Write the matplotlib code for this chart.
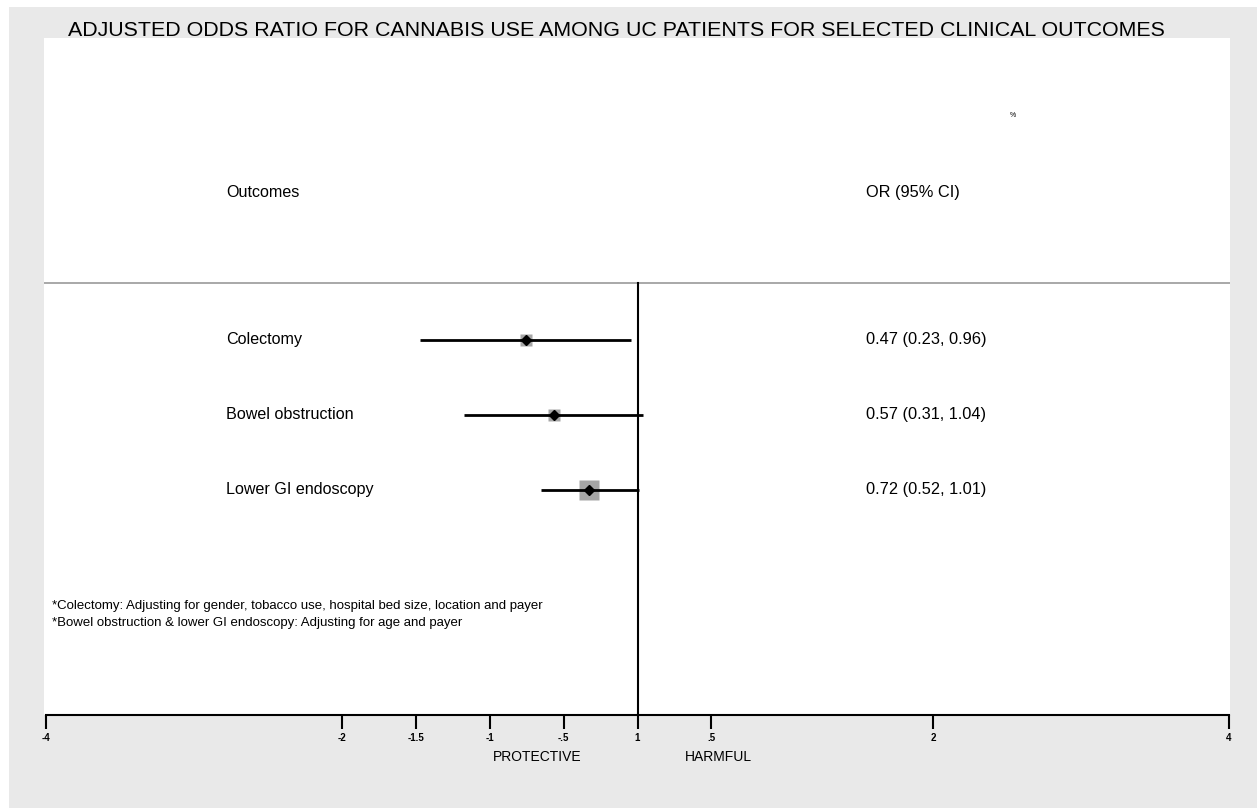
import numpy as np
import matplotlib
matplotlib.use("Agg")
from matplotlib import pyplot as plt
from matplotlib.patches import Rectangle

plt.rcParams['font.family'] = ['Liberation Sans', 'DejaVu Sans']

# data (odds ratios with 95% CI)
outcomes = ["Colectomy", "Bowel obstruction", "Lower GI endoscopy"]
odds_ratio = [0.47, 0.57, 0.72]
ci_low = [0.23, 0.31, 0.52]
ci_high = [0.96, 1.04, 1.01]
weights = [1.0, 1.3, 3.0]   # relative box size

tick_pos = [-4, -2, -1.5, -1, -0.5, 0, 0.5, 2, 4]
tick_labels = ["-4", "-2", "-1.5", "-1", "-.5", "1", ".5", "2", "4"]

title = "ADJUSTED ODDS RATIO FOR CANNABIS USE AMONG UC PATIENTS FOR SELECTED CLINICAL OUTCOMES"
notes = ["*Colectomy: Adjusting for gender, tobacco use, hospital bed size, location and payer",
         "*Bowel obstruction & lower GI endoscopy: Adjusting for age and payer"]

W, H = 1257, 810
fig = plt.figure(figsize=(W / 100, H / 100), dpi=100)
fig.patch.set_facecolor("white")
bg = Rectangle((9 / W, 2 / H), (W - 9) / W, (H - 9) / H,
               transform=fig.transFigure, facecolor="#e9e9e9",
               edgecolor="none", zorder=-10)
fig.patches.append(bg)

ax = fig.add_axes([44 / W, (H - 715) / H, (1230 - 44) / W, (715 - 38) / H])
ax.set_zorder(1)
ax.set_facecolor("white")
ax.set_xlim(-4.014, 4.007)
ax.set_ylim(715, 38)

rows = [340, 415, 490]
log_or = np.log(odds_ratio)
log_lo = np.log(ci_low)
log_hi = np.log(ci_high)

for i in range(len(outcomes)):
    y = rows[i]
    ax.plot([log_lo[i], log_hi[i]], [y, y], color="black", lw=2.0, zorder=3,
            solid_capstyle="butt")
    ax.plot(log_or[i], y, marker="s", ms=8 * np.sqrt(weights[i]),
            color="#a6a6a6", mec="none", zorder=2)
    ax.plot(log_or[i], y, marker="D", ms=5, color="black", zorder=4)
    ax.text(-2.782, y, outcomes[i], fontsize=11.6, va="center", ha="left")
    ax.text(1.546, y, "%.2f (%.2f, %.2f)" % (odds_ratio[i], ci_low[i], ci_high[i]),
            fontsize=11.8, va="center", ha="left")

ax.text(-2.782, 193, "Outcomes", fontsize=11.6, va="center", ha="left")
ax.text(1.546, 193, "OR (95% CI)", fontsize=11.8, va="center", ha="left")
ax.text(2.52, 116, "%", fontsize=5, va="center", ha="left")

ax.axhline(283, color="#9a9a9a", lw=1.2)
ax.plot([0, 0], [283, 715], color="black", lw=1.5, clip_on=False)

ax.text(-3.96, 606, notes[0], fontsize=9.5, va="center", ha="left")
ax.text(-3.96, 623, notes[1], fontsize=9.5, va="center", ha="left")

for s in ["left", "top", "right"]:
    ax.spines[s].set_visible(False)
ax.spines["bottom"].set_linewidth(1.5)
ax.spines["bottom"].set_bounds(-4, 4)
ax.set_yticks([])
ax.set_xticks(tick_pos)
ax.set_xticklabels(tick_labels, fontsize=7, fontweight="bold")
ax.tick_params(axis="x", length=10, width=1.5, pad=3)

ax.text(-0.68, 757, "PROTECTIVE", fontsize=10, va="center", ha="center", clip_on=False)
ax.text(0.55, 757, "HARMFUL", fontsize=10, va="center", ha="center", clip_on=False)

fig.text(616 / W, 1 - 31 / H, title, fontsize=15.4, ha="center", va="center")

fig.savefig("out.png", dpi=100)
